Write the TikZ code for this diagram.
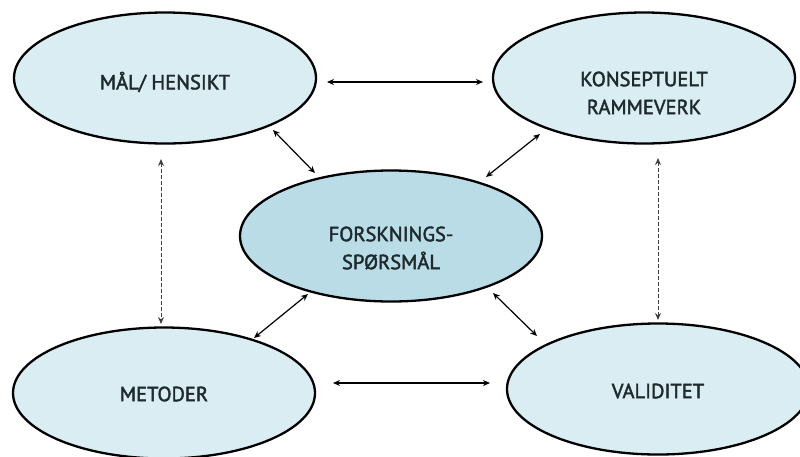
\documentclass[tikz,border=0pt]{standalone}
\usepackage{fontspec}
\setmainfont{PT Sans}
\newfontfamily\lblfont{PT Sans}[FakeBold=2]
\usetikzlibrary{arrows.meta,shapes.geometric}
\definecolor{outerfill}{HTML}{DAEDF3}
\definecolor{centerfill}{HTML}{B9DCE6}
\definecolor{txt}{HTML}{1E2A2E}
\begin{document}
\begin{tikzpicture}[x=1pt,y=-1pt,
  bubble/.style={ellipse, draw=black, line width=2.3pt, fill=outerfill,
    minimum width=302pt, minimum height=131pt, inner sep=0pt},
  hub/.style={bubble, fill=centerfill},
  lbl/.style={inner sep=0pt, text=txt, font=\lblfont\fontsize{20.5}{28}\selectfont, align=center},
  link/.style={line width=1.2pt, {Stealth[length=7pt,width=6pt]}-{Stealth[length=7pt,width=6pt]}},
  dlink/.style={line width=1pt, draw=black!75, dash pattern=on 4pt off 2pt, {Stealth[length=7pt,width=6pt]}-{Stealth[length=7pt,width=6pt]}}
]
\useasboundingbox (0,0) rectangle (800,456);
\node[bubble] (mal) at (165,78) {};
\node[bubble] (kon) at (644,78) {};
\node[hub] (fsp) at (391,236) {};
\node[bubble] (met) at (164,393) {};
\node[bubble] (val) at (658,389) {};
\node[lbl] (tmal) at ([yshift=-4pt]mal.center) {MÅL/ HENSIKT};
\node[lbl] (tkon) at ([yshift=-15pt]kon.center) {KONSEPTUELT\\RAMMEVERK};
\node[lbl] (tfsp) at ([yshift=-12pt]fsp.center) {FORSKNINGS-\\SPØRSMÅL};
\node[lbl] (tmet) at ([yshift=-1pt]met.center) {METODER};
\node[lbl] (tval) at ([yshift=-2pt]val.center) {VALIDITET};

\coordinate (a1) at (327,82); \coordinate (a2) at (483,82);
\draw[link] (a1) -- (a2);
\coordinate (b1) at (333,383); \coordinate (b2) at (490,383);
\draw[link] (b1) -- (b2);
\coordinate (c1) at (273,130); \coordinate (c2) at (315,173);
\draw[link] (c1) -- (c2);
\coordinate (d1) at (540,134); \coordinate (d2) at (486,177);
\draw[link] (d1) -- (d2);
\coordinate (e1) at (254,338); \coordinate (e2) at (308,294);
\draw[link] (e1) -- (e2);
\coordinate (f1) at (493,293); \coordinate (f2) at (537,336);
\draw[link] (f1) -- (f2);
\coordinate (g1) at (161,159); \coordinate (g2) at (161,324);
\draw[dlink] (g1) -- (g2);
\coordinate (h1) at (658,158); \coordinate (h2) at (658,320);
\draw[dlink] (h1) -- (h2);
\end{tikzpicture}
\end{document}
